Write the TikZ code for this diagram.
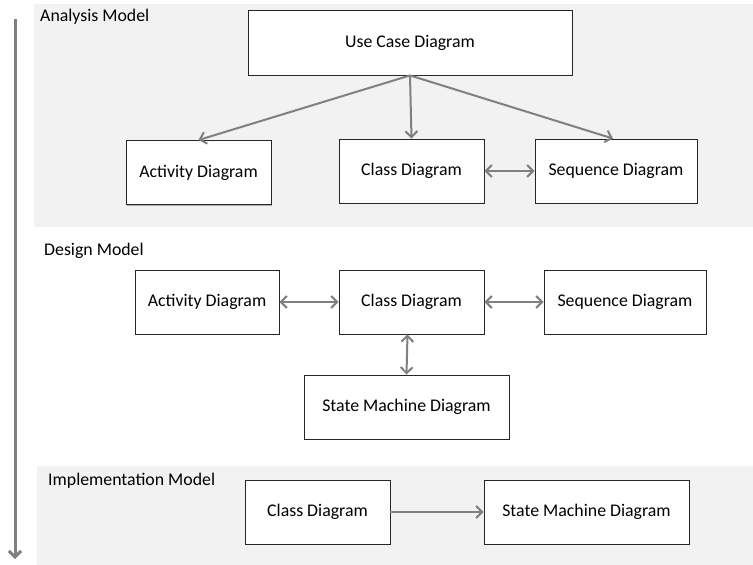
\documentclass[tikz,border=0pt]{standalone}
\usepackage{fontspec}
\setmainfont{Carlito}
\usetikzlibrary{arrows.meta,shadows}
\begin{document}
\begin{tikzpicture}[x=1pt,y=-1pt,
  tip/.tip={Straight Barb[length=6pt,width=12pt]},
  box/.style={draw=black!85, line width=0.9pt, fill=white, minimum height=64pt,
    inner sep=0pt, font=\fontsize{17.8}{21}\selectfont,
    drop shadow={shadow xshift=1.3pt, shadow yshift=-1.3pt, fill=black!50, opacity=0.6}},
  conn/.style={draw=black!50, line width=2pt, -tip},
  both/.style={conn, tip-tip},
  panel/.style={fill=black!5, draw=none},
  title/.style={anchor=west, inner sep=0pt, font=\fontsize{17.8}{21}\selectfont}]
\useasboundingbox (0,0) rectangle (753,565);

% model bands
\fill[panel] (34,4) rectangle (753,227);
\fill[panel] (37,466) rectangle (753,565);

% timeline
\coordinate (tTop) at (15,19);
\coordinate (tEnd) at (15,559);
\draw[conn, line width=3pt] (tTop) -- (tEnd);

% titles
\node[title] (tA) at (40,17) {Analysis Model};
\node[title] (tD) at (44,251) {Design Model};
\node[title] (tI) at (48,481) {Implementation Model};

% analysis model
\node[box, minimum width=324pt, minimum height=65pt] (uc) at (410,42.5) {Use Case Diagram};
\node[box, minimum width=145pt] (aa) at (198.5,172.5) {Activity Diagram};
\node[box, minimum width=145pt] (ca) at (411.5,171) {Class Diagram};
\node[box, minimum width=162pt] (sa) at (616,171) {Sequence Diagram};
\draw[conn] (uc.south) -- (aa.north);
\draw[conn] (uc.south) -- (ca.north);
\draw[conn] (uc.south) -- ([xshift=-3pt]sa.north);
\draw[both] (ca.east) -- (sa.west);

% design model
\node[box, minimum width=144pt] (ad) at (207,302) {Activity Diagram};
\node[box, minimum width=145pt] (cd) at (411.5,302) {Class Diagram};
\node[box, minimum width=162pt] (sd) at (625,302) {Sequence Diagram};
\node[box, minimum width=205pt] (md) at (406.5,407) {State Machine Diagram};
\draw[both] (ad.east) -- (cd.west);
\draw[both] (cd.east) -- (sd.west);
\draw[both] ([xshift=-4pt]cd.south) -- (md.north);

% implementation model
\node[box, minimum width=145pt] (ci) at (317.5,512) {Class Diagram};
\node[box, minimum width=205pt] (mi) at (586.5,512) {State Machine Diagram};
\draw[conn] (ci.east) -- (mi.west);
\end{tikzpicture}
\end{document}
